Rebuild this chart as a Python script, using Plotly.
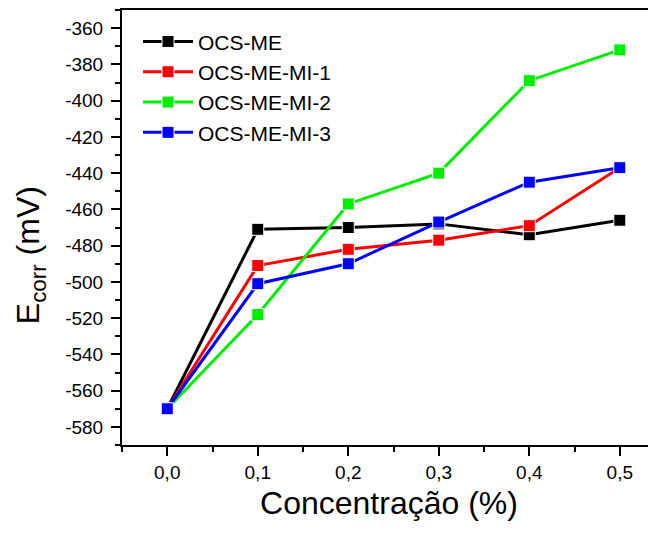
import plotly.graph_objects as go

conc = [0.0, 0.1, 0.2, 0.3, 0.4, 0.5]
series_names = ["OCS-ME", "OCS-ME-MI-1", "OCS-ME-MI-2", "OCS-ME-MI-3"]
ocs_me = [-570, -471, -470, -468, -474, -466]
ocs_me_mi_1 = [-570, -491, -482, -477, -469, -437]
ocs_me_mi_2 = [-570, -518, -457, -440, -389, -372]
ocs_me_mi_3 = [-570, -501, -490, -467, -445, -437]
colors = ["#000000", "#ff0000", "#00ee00", "#0000ff"]
x_tick_vals = [0.0, 0.1, 0.2, 0.3, 0.4, 0.5]
x_tick_text = ["0,0", "0,1", "0,2", "0,3", "0,4", "0,5"]
y_tick_vals = [-580, -560, -540, -520, -500, -480, -460, -440, -420, -400, -380, -360]
y_tick_text = ["-580", "-560", "-540", "-520", "-500", "-480", "-460", "-440", "-420", "-400", "-380", "-360"]

FONT = "Liberation Sans, Arial, sans-serif"

fig = go.Figure()
for name, vals, col in zip(series_names, [ocs_me, ocs_me_mi_1, ocs_me_mi_2, ocs_me_mi_3], colors):
    fig.add_trace(go.Scatter(
        x=conc, y=vals, name=name, mode="lines+markers",
        line=dict(color=col, width=3),
        marker=dict(symbol="square", size=12, color=col, line=dict(color="white", width=1)),
    ))

fig.update_layout(
    width=648, height=530,
    margin=dict(l=114, r=0, t=2, b=93),
    paper_bgcolor="white", plot_bgcolor="white",
    font=dict(family=FONT, color="black"),
    showlegend=True,
    legend=dict(x=0.03, y=0.974, xanchor="left", yanchor="top",
                font=dict(size=21, family=FONT), bgcolor="rgba(0,0,0,0)",
                itemwidth=50, tracegroupgap=0),
    xaxis=dict(
        range=[-0.05, 0.54], showgrid=False, zeroline=False, automargin=False,
        showline=True, linecolor="black", linewidth=2, mirror=True,
        ticks="outside", ticklen=9, tickwidth=1.5, tickcolor="black",
        tickvals=x_tick_vals, ticktext=x_tick_text,
        tickfont=dict(size=19, family=FONT),
        minor=dict(ticks="outside", ticklen=5, tickwidth=1.5, tickcolor="black", dtick=0.05, tick0=-0.05),
        title=dict(text="Concentração (%)", font=dict(size=32, family=FONT), standoff=10),
    ),
    yaxis=dict(
        range=[-590, -350], showgrid=False, zeroline=False, automargin=False,
        showline=True, linecolor="black", linewidth=2, mirror=False,
        ticks="outside", ticklen=9, tickwidth=1.5, tickcolor="black",
        tickvals=y_tick_vals, ticktext=y_tick_text, ticklabelstandoff=4,
        tickfont=dict(size=19, family=FONT),
        minor=dict(ticks="outside", ticklen=5, tickwidth=1.5, tickcolor="black", dtick=10, tick0=-590),
    ),
    annotations=[dict(
        text="E<sub>corr</sub> (mV)", textangle=-90, showarrow=False,
        xref="paper", yref="paper", x=-0.212, y=0.437, xanchor="left", yanchor="middle",
        font=dict(size=32, family=FONT, color="black"),
    )],
)

fig.write_html("out.html")
